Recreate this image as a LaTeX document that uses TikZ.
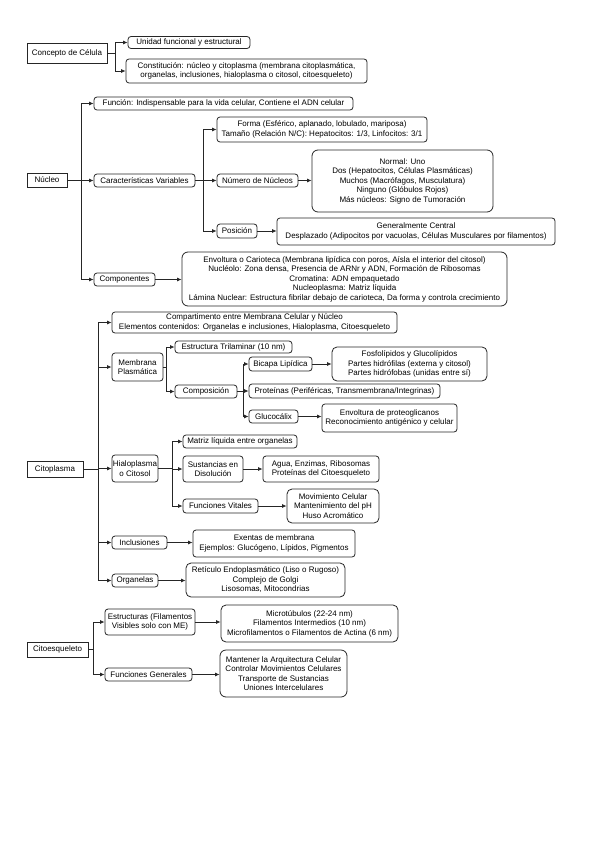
\documentclass[tikz,border=0pt]{standalone}
\usepackage{fontspec}
\setmainfont{Liberation Sans}
\usetikzlibrary{arrows.meta}
\begin{document}
\begin{tikzpicture}[x=1pt,y=-1pt,
  base/.style={draw=black!85, line width=0.8pt, align=center, font=\fontsize{8}{9.5}\selectfont, inner xsep=1pt, inner ysep=0.5pt},
  rbox/.style={base, rounded corners=3pt},
  sbox/.style={base},
  arr/.style={draw=black!85, line width=0.8pt, -{Latex[length=4.5pt,width=4pt]}},
]
\fill[white] (0,0) rectangle (599,848);
\useasboundingbox (0,0) rectangle (599,848);
\newcommand\conn[3]{\draw[arr] (#1.east) -- (#1.east -| #2) |- (#3.west);}
\newcommand\dlink[2]{\draw[arr] (#1.east) -- (#1.east -| #2.west);}

% trunk coordinates
\coordinate (t0) at (115,0);
\coordinate (t1) at (81,0);
\coordinate (t2) at (203,0);
\coordinate (t3) at (98,0);
\coordinate (t4) at (166,0);
\coordinate (t5) at (243,0);
\coordinate (t6) at (172,0);
\coordinate (t7) at (93,0);

% Concepto de Célula
\node[sbox, minimum width=80pt, minimum height=20pt] (concepto) at (67,53) {Concepto de Célula};
\node[rbox, minimum width=122pt, minimum height=12pt] (unidad) at (189,42.5) {Unidad funcional y estructural};
\node[rbox, minimum width=241pt, minimum height=24pt] (constit) at (246.5,71) {Constitución: núcleo y citoplasma (membrana citoplasmática,\\organelas, inclusiones, hialoplasma o citosol, citoesqueleto)};

% Núcleo
\node[sbox, minimum width=40pt, minimum height=14pt] (nucleo) at (47,180) {Núcleo};
\node[rbox, minimum width=259pt, minimum height=13pt] (funcion) at (223.5,103.5) {Función: Indispensable para la vida celular, Contiene el ADN celular};
\node[rbox, minimum width=101pt, minimum height=13pt] (caract) at (144.5,180.5) {Características Variables};
\node[rbox, minimum width=210pt, minimum height=25pt] (forma) at (322,129.5) {Forma (Esférico, aplanado, lobulado, mariposa)\\Tamaño (Relación N/C): Hepatocitos: 1/3, Linfocitos: 3/1};
\node[rbox, minimum width=81pt, minimum height=13pt] (numero) at (257.5,180.5) {Número de Núcleos};
\node[rbox, minimum width=181pt, minimum height=62pt, rounded corners=6pt] (normal) at (402.5,181) {Normal: Uno\\Dos (Hepatocitos, Células Plasmáticas)\\Muchos (Macrófagos, Musculatura)\\Ninguno (Glóbulos Rojos)\\Más núcleos: Signo de Tumoración};
\node[rbox, minimum width=40pt, minimum height=14pt] (posicion) at (237,231) {Posición};
\node[rbox, minimum width=278pt, minimum height=27pt] (general) at (416,231.5) {Generalmente Central\\Desplazado (Adipocitos por vacuolas, Células Musculares por filamentos)};
\node[rbox, minimum width=61pt, minimum height=13pt] (componentes) at (124.5,279.5) {Componentes};
\node[rbox, minimum width=325pt, minimum height=54pt, rounded corners=6pt] (envoltura) at (344.5,279) {Envoltura o Carioteca (Membrana lipídica con poros, Aísla el interior del citosol)\\Nucléolo: Zona densa, Presencia de ARNr y ADN, Formación de Ribosomas\\Cromatina: ADN empaquetado\\Nucleoplasma: Matriz líquida\\Lámina Nuclear: Estructura fibrilar debajo de carioteca, Da forma y controla crecimiento};

% Citoplasma
\node[sbox, minimum width=56pt, minimum height=16pt] (citoplasma) at (55,469) {Citoplasma};
\node[rbox, minimum width=285pt, minimum height=21pt] (compart) at (254.5,322.5) {Compartimento entre Membrana Celular y Núcleo\\Elementos contenidos: Organelas e inclusiones, Hialoplasma, Citoesqueleto};
\node[rbox, minimum width=51pt, minimum height=28pt] (membrana) at (137.5,367) {Membrana\\Plasmática};
\node[rbox, minimum width=117pt, minimum height=12pt] (trilaminar) at (233.5,347) {Estructura Trilaminar (10 nm)};
\node[rbox, minimum width=62pt, minimum height=13pt] (composicion) at (206,391.5) {Composición};
\node[rbox, minimum width=63pt, minimum height=14pt] (bicapa) at (280.5,364) {Bicapa Lipídica};
\node[rbox, minimum width=191pt, minimum height=14pt] (proteinas) at (344.5,391) {Proteínas (Periféricas, Transmembrana/Integrinas)};
\node[rbox, minimum width=49pt, minimum height=13pt] (glucocalix) at (273.5,416.5) {Glucocálix};
\node[rbox, minimum width=155pt, minimum height=34pt, rounded corners=5pt] (fosfo) at (409.5,364) {Fosfolípidos y Glucolípidos\\Partes hidrófilas (externa y citosol)\\Partes hidrófobas (unidas entre sí)};
\node[rbox, minimum width=135pt, minimum height=28pt] (envprot) at (389.5,418) {Envoltura de proteoglicanos\\Reconocimiento antigénico y celular};
\node[rbox, minimum width=46pt, minimum height=27pt] (hialo) at (135,468.5) {Hialoplasma\\o Citosol};
\node[rbox, minimum width=114pt, minimum height=13pt] (matriz) at (240,441.5) {Matriz líquida entre organelas};
\node[rbox, minimum width=60pt, minimum height=26pt] (sustancias) at (213,469) {Sustancias en\\Disolución};
\node[rbox, minimum width=116pt, minimum height=26pt] (agua) at (321,469) {Agua, Enzimas, Ribosomas\\Proteínas del Citoesqueleto};
\node[rbox, minimum width=75pt, minimum height=14pt] (funvit) at (220.5,506) {Funciones Vitales};
\node[rbox, minimum width=92pt, minimum height=34pt, rounded corners=5pt] (movim) at (333,506) {Movimiento Celular\\Mantenimiento del pH\\Huso Acromático};
\node[rbox, minimum width=55pt, minimum height=13pt] (inclus) at (139.5,542.5) {Inclusiones};
\node[rbox, minimum width=162pt, minimum height=27pt] (exentas) at (274,543.5) {Exentas de membrana\\Ejemplos: Glucógeno, Lípidos, Pigmentos};
\node[rbox, minimum width=46pt, minimum height=13pt] (organelas) at (135,580.5) {Organelas};
\node[rbox, minimum width=159pt, minimum height=34pt, rounded corners=5pt] (reticulo) at (265.5,580) {Retículo Endoplasmático (Liso o Rugoso)\\Complejo de Golgi\\Lisosomas, Mitocondrias};

% Citoesqueleto
\node[sbox, minimum width=61pt, minimum height=15pt] (citoesq) at (57.5,649.5) {Citoesqueleto};
\node[rbox, minimum width=90pt, minimum height=26pt] (estruct) at (150,622) {Estructuras (Filamentos\\Visibles solo con ME)};
\node[rbox, minimum width=87pt, minimum height=13pt] (fungen) at (148.5,674.5) {Funciones Generales};
\node[rbox, minimum width=177pt, minimum height=37pt, rounded corners=5pt] (microt) at (309.5,623.5) {Microtúbulos (22-24 nm)\\Filamentos Intermedios (10 nm)\\Microfilamentos o Filamentos de Actina (6 nm)};
\node[rbox, minimum width=127pt, minimum height=47pt, rounded corners=6pt] (mantener) at (283.5,673.5) {Mantener la Arquitectura Celular\\Controlar Movimientos Celulares\\Transporte de Sustancias\\Uniones Intercelulares};

% connectors
\conn{concepto}{t0}{unidad}
\conn{concepto}{t0}{constit}

\conn{nucleo}{t1}{funcion}
\conn{nucleo}{t1}{caract}
\conn{nucleo}{t1}{componentes}
\conn{caract}{t2}{forma}
\conn{caract}{t2}{numero}
\conn{caract}{t2}{posicion}
\dlink{numero}{normal}
\dlink{posicion}{general}
\dlink{componentes}{envoltura}

\conn{citoplasma}{t3}{compart}
\conn{citoplasma}{t3}{membrana}
\conn{citoplasma}{t3}{hialo}
\conn{citoplasma}{t3}{inclus}
\conn{citoplasma}{t3}{organelas}
\conn{membrana}{t4}{trilaminar}
\conn{membrana}{t4}{composicion}
\conn{composicion}{t5}{bicapa}
\conn{composicion}{t5}{proteinas}
\conn{composicion}{t5}{glucocalix}
\dlink{bicapa}{fosfo}
\dlink{glucocalix}{envprot}
\conn{hialo}{t6}{matriz}
\conn{hialo}{t6}{sustancias}
\conn{hialo}{t6}{funvit}
\dlink{sustancias}{agua}
\dlink{funvit}{movim}
\dlink{inclus}{exentas}
\dlink{organelas}{reticulo}

\conn{citoesq}{t7}{estruct}
\conn{citoesq}{t7}{fungen}
\dlink{estruct}{microt}
\dlink{fungen}{mantener}
\end{tikzpicture}
\end{document}
